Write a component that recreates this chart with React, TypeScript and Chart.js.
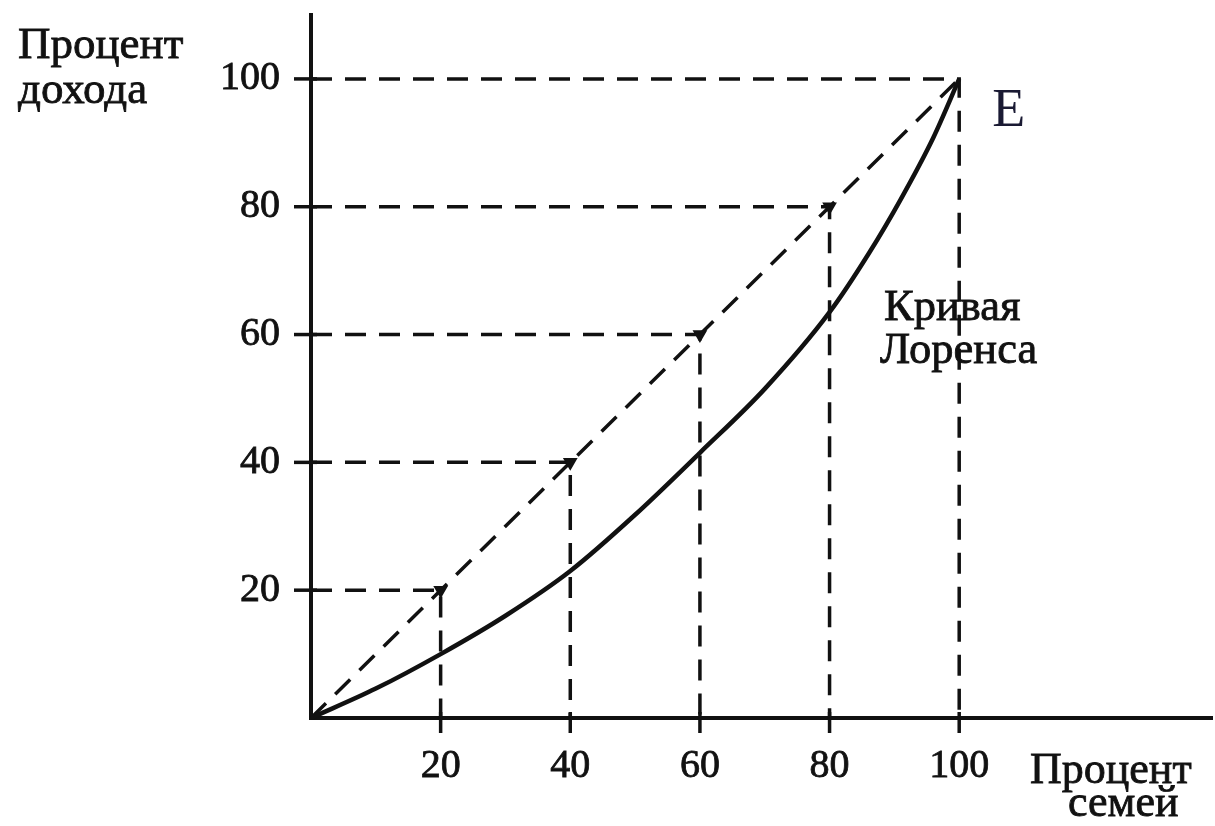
import React, { useEffect, useRef } from "react";
import { Chart, registerables } from "chart.js";

Chart.register(...registerables);

const xTickValues = [20, 40, 60, 80, 100];
const yTickValues = [20, 40, 60, 80, 100];
const familyShare = [0, 10, 20, 30, 40, 50, 60, 70, 80, 86, 91, 96, 100];
const lorenzIncome = [0, 4.6, 10, 16, 23, 31.8, 41.5, 51.5, 63.5, 72.6, 81.2, 90.8, 100];
const equalityFamily = [0, 20, 40, 60, 80, 100];
const equalityIncome = [0, 20, 40, 60, 80, 100];
const guideLevels = [20, 40, 60, 80, 100];

const yAxisTitle = ["Процент", "дохода"];
const xAxisTitle = ["Процент", "семей"];
const curveLabel = ["Кривая", "Лоренса"];
const pointLabel = "E";

const INK = "#111111";
const SERIF = "'Liberation Serif', 'DejaVu Serif', serif";

function strokeFill(ctx: CanvasRenderingContext2D, t: string, x: number, y: number) {
  ctx.strokeText(t, x, y);
  ctx.fillText(t, x, y);
}

const textPlugin = {
  id: "textLabels",
  afterDraw(chart: any) {
    const { ctx, chartArea, scales } = chart;
    const x = scales.x;
    const y = scales.y;
    ctx.save();
    // tick crosses
    ctx.strokeStyle = INK;
    ctx.lineWidth = 3.5;
    xTickValues.forEach((v) => {
      const px = x.getPixelForValue(v);
      ctx.beginPath();
      ctx.moveTo(px, chartArea.bottom - 6);
      ctx.lineTo(px, chartArea.bottom + 15);
      ctx.stroke();
    });
    yTickValues.forEach((v) => {
      const py = y.getPixelForValue(v);
      ctx.beginPath();
      ctx.moveTo(chartArea.left - 17, py);
      ctx.lineTo(chartArea.left + 6, py);
      ctx.stroke();
    });
    ctx.fillStyle = INK;
    ctx.strokeStyle = INK;
    ctx.lineWidth = 0.8;
    ctx.textAlign = "left";
    ctx.textBaseline = "alphabetic";
    ctx.font = `45px ${SERIF}`;
    strokeFill(ctx, yAxisTitle[0], 18, 58);
    strokeFill(ctx, yAxisTitle[1], 18, 103);
    ctx.font = `44px ${SERIF}`;
    strokeFill(ctx, xAxisTitle[0], 1030, 783);
    strokeFill(ctx, xAxisTitle[1], 1068, 816);
    ctx.font = `44.5px ${SERIF}`;
    strokeFill(ctx, curveLabel[0], 884, 320);
    strokeFill(ctx, curveLabel[1], 880, 363);
    ctx.font = `54px ${SERIF}`;
    ctx.fillStyle = "#1a1a33";
    ctx.fillText(pointLabel, x.getPixelForValue(100) + 33, y.getPixelForValue(100) + 47);
    ctx.restore();
  },
};

export default function App() {
  const ref = useRef<HTMLCanvasElement>(null);
  useEffect(() => {
    if (!ref.current) return;
    const guides = guideLevels.map((v) => ({
      data: [
        { x: 0, y: v },
        { x: v, y: v },
        { x: v, y: 0 },
      ],
      borderColor: INK,
      borderWidth: 3.5,
      borderDash: [21, 13],
      pointRadius: 0,
      tension: 0,
      clip: false as any,
    }));
    const chart = new Chart(ref.current, {
      type: "line",
      data: {
        datasets: [
          {
            data: familyShare.map((x, i) => ({ x, y: lorenzIncome[i] })),
            borderColor: INK,
            borderWidth: 4.5,
            pointRadius: 0,
            cubicInterpolationMode: "monotone",
            clip: false as any,
          },
          {
            data: equalityFamily.map((x, i) => ({ x, y: equalityIncome[i] })),
            borderColor: INK,
            backgroundColor: INK,
            borderWidth: 3.5,
            borderDash: [21, 13],
            pointRadius: [0, 5, 5, 5, 5, 0],
            pointStyle: "triangle",
            rotation: 180,
            tension: 0,
            clip: false as any,
          },
          ...guides,
        ] as any,
      },
      options: {
        responsive: false,
        animation: false,
        events: [],
        layout: { padding: { top: 15, right: 3, left: 0, bottom: 0 } },
        plugins: { legend: { display: false }, tooltip: { enabled: false } },
        scales: {
          x: {
            type: "linear",
            min: 0,
            max: 139,
            afterBuildTicks: (s: any) => {
              s.ticks = xTickValues.map((v) => ({ value: v }));
            },
            afterFit: (s: any) => {
              s.height = 108;
              s.paddingLeft = 0;
              s.paddingRight = 0;
            },
            grid: { display: false, drawTicks: false },
            border: { display: true, color: INK, width: 4 },
            ticks: {
              color: INK,
              font: { family: SERIF, size: 40 },
              padding: 24,
              maxRotation: 0,
              autoSkip: false,
              textStrokeColor: INK,
              textStrokeWidth: 0.8,
            },
          },
          y: {
            type: "linear",
            min: 0,
            max: 110,
            afterBuildTicks: (s: any) => {
              s.ticks = yTickValues.map((v) => ({ value: v }));
            },
            afterFit: (s: any) => {
              s.width = 311;
              s.paddingTop = 0;
              s.paddingBottom = 0;
            },
            grid: { display: false, drawTicks: false },
            border: { display: true, color: INK, width: 4 },
            ticks: {
              color: INK,
              font: { family: SERIF, size: 40 },
              padding: 31,
              autoSkip: false,
              textStrokeColor: INK,
              textStrokeWidth: 0.8,
            },
          },
        },
      },
      plugins: [textPlugin],
    });
    return () => chart.destroy();
  }, []);
  return (
    <div style={{ position: "absolute", left: 0, top: 0, width: 1215, height: 826, background: "#fff" }}>
      <canvas ref={ref} width={1215} height={826} style={{ width: 1215, height: 826 }} />
    </div>
  );
}
